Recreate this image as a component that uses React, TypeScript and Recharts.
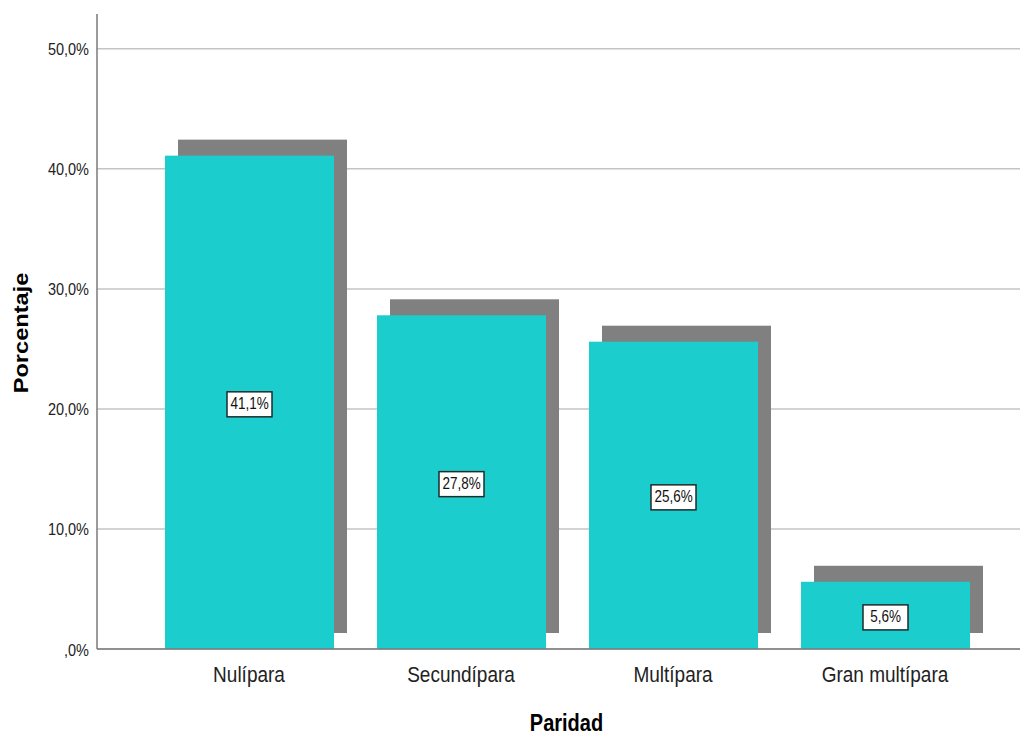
import React from 'react';
import { BarChart, Bar, XAxis, YAxis, CartesianGrid, LabelList } from 'recharts';

// Parity distribution (percent of cases)
const categories = ['Nulípara', 'Secundípara', 'Multípara', 'Gran multípara'];
const percentages = [41.1, 27.8, 25.6, 5.6];
const yTicks = [0, 10, 20, 30, 40, 50];
const yTickLabels = [',0%', '10,0%', '20,0%', '30,0%', '40,0%', '50,0%'];
const valueLabels = ['41,1%', '27,8%', '25,6%', '5,6%'];

const data = categories.map((c, i) => ({ paridad: c, porcentaje: percentages[i], etiqueta: valueLabels[i] }));

const FONT = "'Liberation Sans', Arial, sans-serif";
const TEAL = '#1ccdcd';
const SHADOW = '#808080';
const STRETCH = 1.18;

const YTick = (props: any) => {
  const { x, y, payload } = props;
  const idx = yTicks.indexOf(payload.value);
  const label = idx >= 0 ? yTickLabels[idx] : String(payload.value);
  return (
    <text
      transform={`translate(${x},${y + 6.5}) scale(1,${STRETCH})`}
      textAnchor="end"
      fontFamily={FONT}
      fontSize={14.5}
      fill="#222"
    >
      {label}
    </text>
  );
};

const XTick = (props: any) => {
  const { x, y, payload } = props;
  return (
    <text
      transform={`translate(${x},${y + 33}) scale(1,${STRETCH})`}
      textAnchor="middle"
      fontFamily={FONT}
      fontSize={19}
      fill="#222"
    >
      {payload.value}
    </text>
  );
};

// Bar with an offset grey drop shadow behind it
const ShadowBar = (props: any) => {
  const { x, y, width, height } = props;
  if (width == null || height == null) return null;
  return (
    <g>
      <rect x={x + 13} y={y - 16} width={width} height={height} fill={SHADOW} />
      <rect x={x} y={y} width={width} height={height} fill={TEAL} />
    </g>
  );
};

const ValueBox = (props: any) => {
  const vb = props.viewBox || {};
  const x = props.x ?? vb.x;
  const y = props.y ?? vb.y;
  const width = props.width ?? vb.width;
  const height = props.height ?? vb.height;
  const cx = x + width / 2;
  const cy = y + height / 2 + 2;
  const w = 45;
  const h = 25;
  return (
    <g>
      <rect x={cx - w / 2} y={cy - h / 2} width={w} height={h} fill="#fff" stroke="#1e2b2b" strokeWidth={1.5} />
      <text
        transform={`translate(${cx},${cy + 5}) scale(1,${STRETCH})`}
        textAnchor="middle"
        fontFamily={FONT}
        fontSize={13.5}
        fill="#111"
      >
        {props.value}
      </text>
    </g>
  );
};

const XTitle = (props: any) => {
  const vb = props.viewBox || {};
  const cx = vb.x + vb.width / 2;
  return (
    <text
      transform={`translate(${cx + 8},731) scale(1,${STRETCH})`}
      textAnchor="middle"
      fontFamily={FONT}
      fontSize={20}
      fontWeight="bold"
      fill="#000"
    >
      Paridad
    </text>
  );
};

const YTitle = () => (
  <text
    transform={`translate(28,333) rotate(-90) scale(${STRETCH},1)`}
    textAnchor="middle"
    fontFamily={FONT}
    fontSize={20}
    fontWeight="bold"
    fill="#000"
  >
    Porcentaje
  </text>
);

export default function App() {
  return (
    <div style={{ position: 'absolute', left: 0, top: 0, width: 1023, height: 735, background: '#fff' }}>
      <BarChart
        width={1023}
        height={735}
        data={data}
        margin={{ top: 14, right: 3, bottom: 0, left: 0 }}
        barSize={169}
      >
        <CartesianGrid horizontal vertical={false} syncWithTicks stroke="#c4c4c4" strokeWidth={1.5} />
        <XAxis
          dataKey="paridad"
          height={86}
          padding={{ left: 46, right: 29 }}
          tickLine={false}
          tickSize={0}
          tickMargin={0}
          axisLine={{ stroke: '#7a7a7a', strokeWidth: 1.5 }}
          tick={<XTick />}
          interval={0}
          label={<XTitle />}
        />
        <YAxis
          width={97}
          domain={[0, 52.9]}
          ticks={yTicks}
          tickLine={false}
          tickSize={0}
          tickMargin={8}
          axisLine={{ stroke: '#7a7a7a', strokeWidth: 1.5 }}
          tick={<YTick />}
          allowDataOverflow
          label={<YTitle />}
        />
        <Bar dataKey="porcentaje" isAnimationActive={false} shape={<ShadowBar />}>
          <LabelList dataKey="etiqueta" content={<ValueBox />} />
        </Bar>
      </BarChart>
    </div>
  );
}
